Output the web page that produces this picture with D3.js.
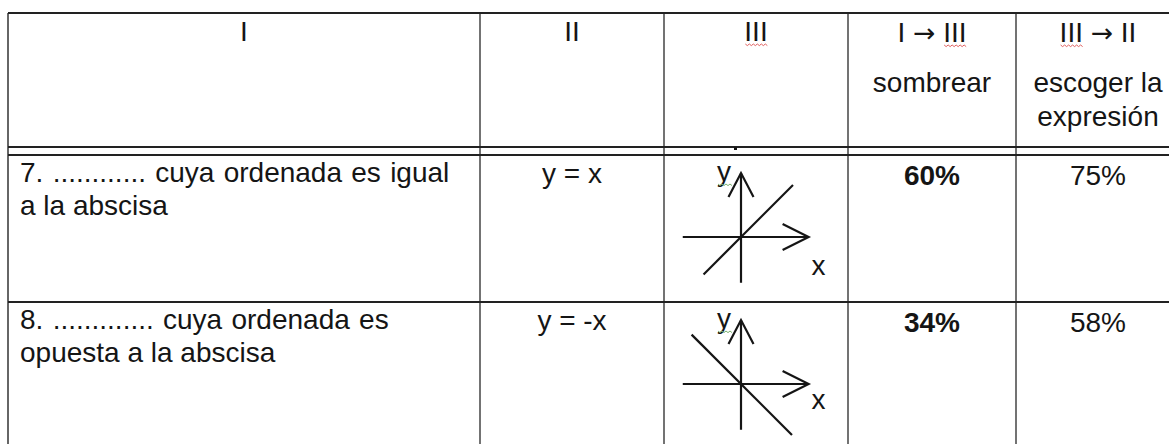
<!DOCTYPE html>
<html>
<head>
<meta charset="utf-8">
<script src="https://cdn.jsdelivr.net/npm/d3@7"></script>
<style>
  body { margin: 0; background: #fff; }
  svg { display: block; font-family: "Liberation Sans", Arial, sans-serif; }
</style>
</head>
<body>
<svg id="table"></svg>
<script>
// Table content
const headers = [["I"], ["II"], ["III"], ["I \u2192 III", "sombrear"], ["III \u2192 II", "escoger la", "expresión"]];
const descriptions = [
    ["7. ............ cuya ordenada es igual", "a la abscisa"],
    ["8. ............. cuya ordenada es", "opuesta a la abscisa"]
];
const expressions = ["y = x", "y = -x"];
const slopes = [1, -1];
const diagStart = [-0.72, -0.95];
const pctSombrear = [60, 34];
const pctEscoger = [75, 58];

// Layout
const width = 1169;
const height = 444;
const colEdges = [8, 480, 664, 848, 1016, 1180];
const topLine = 13;
const headLines = [147, 155];
const rowTops = [155, 302];
const fontSize = 28;
const ink = "#151515";
const arrowFont = "DejaVu Sans";

const svg = d3.select("#table")
    .attr("width", width)
    .attr("height", height);

const colCenter = i => (colEdges[i] + colEdges[i + 1]) / 2;

// text width measuring helper (uses the same arrow font as the header)
const measurer = svg.append("text")
    .attr("font-size", fontSize)
    .attr("x", 10).attr("y", 10)
    .attr("visibility", "hidden")
    .attr("xml:space", "preserve");
function textWidth(s) {
    measurer.selectAll("*").remove();
    measurer.text(null);
    fillText(measurer, s);
    try { return measurer.node().getComputedTextLength(); }
    catch (e) { return s.length * fontSize * 0.5; }
}
// splits the arrow into its own tspan
function fillText(sel, s) {
    s.split(/(\u2192)/).forEach(part => {
        if (!part) return;
        const ts = sel.append("tspan").text(part);
        if (part === "\u2192") ts.attr("font-family", arrowFont).attr("font-size", fontSize * 0.95);
    });
}

// Grid lines
svg.selectAll(".vline")
    .data(colEdges)
    .enter().append("line")
    .attr("class", "vline")
    .attr("x1", d => d).attr("x2", d => d)
    .attr("y1", topLine).attr("y2", height + 10)
    .attr("stroke", (d, i) => i === 0 ? "#666" : "#444")
    .attr("stroke-width", (d, i) => i === 0 ? 2 : 1.5);

svg.selectAll(".hline")
    .data([topLine, ...headLines, rowTops[1]])
    .enter().append("line")
    .attr("class", "hline")
    .attr("x1", colEdges[0]).attr("x2", width + 10)
    .attr("y1", d => d).attr("y2", d => d)
    .attr("stroke", "#222")
    .attr("stroke-width", 2.2);

// small speck on the header rule
svg.append("rect")
    .attr("x", 734).attr("y", 147.5).attr("width", 3).attr("height", 2.5)
    .attr("fill", "#111");

// wavy underline helper
function squiggle(x0, x1, y, color) {
    let p = `M${x0},${y}`;
    for (let x = x0, k = 0; x < x1; x += 2, k++) {
        p += ` L${x + 2},${y + (k % 2 === 0 ? 1.6 : 0)}`;
    }
    svg.append("path").attr("d", p)
        .attr("fill", "none").attr("stroke", color).attr("stroke-width", 1);
}

// Header
headers.forEach((lines, i) => {
    const baselines = lines.length === 1 ? [41] : [42, 92, 126];
    lines.forEach((txt, j) => {
        const t = svg.append("text")
            .attr("x", colCenter(i))
            .attr("y", baselines[j])
            .attr("text-anchor", "middle")
            .attr("font-size", fontSize)
            .attr("fill", ink)
            .attr("xml:space", "preserve");
        fillText(t, txt);
        // red spell-check marks under "III"
        const idx = txt.indexOf("III");
        if (idx >= 0) {
            const start = colCenter(i) - textWidth(txt) / 2 + (idx > 0 ? textWidth(txt.slice(0, idx)) : 0);
            squiggle(start + 1, start + textWidth("III") - 1, baselines[j] + 3, "#e06060");
        }
    });
});
measurer.remove();

// Rows
rowTops.forEach((top, r) => {
    // column I: description
    descriptions[r].forEach((line, j) => {
        svg.append("text")
            .attr("x", 20)
            .attr("y", top + 27 + j * 33)
            .attr("font-size", fontSize)
            .attr("word-spacing", j === 0 ? 1.5 : 0)
            .attr("fill", ink)
            .attr("xml:space", "preserve")
            .text(line);
    });

    // column II: expression
    svg.append("text")
        .attr("x", colCenter(1))
        .attr("y", top + 28)
        .attr("text-anchor", "middle")
        .attr("font-size", fontSize)
        .attr("fill", ink)
        .text(expressions[r]);

    // column III: small graph of y = m x
    const ox = colEdges[2] + 77;
    const oy = top + 82;
    const sx = d3.scaleLinear().domain([-1, 1]).range([ox - 52, ox + 52]);
    const sy = d3.scaleLinear().domain([-1, 1]).range([oy + 52, oy - 52]);
    const g = svg.append("g")
        .attr("stroke", ink)
        .attr("stroke-width", 2.2)
        .attr("fill", "none");

    // axes
    g.append("line").attr("x1", sx(-1.12)).attr("x2", sx(1.3)).attr("y1", sy(0)).attr("y2", sy(0));
    g.append("line").attr("x1", sx(0)).attr("x2", sx(0)).attr("y1", sy(-0.88)).attr("y2", sy(1.23));
    // arrow heads
    const hx = sx(1.3), hy = sy(1.23);
    g.append("path").attr("d", `M${hx - 26},${sy(0) - 13} L${hx},${sy(0)} L${hx - 26},${sy(0) + 13}`);
    g.append("path").attr("d", `M${sx(0) - 12.5},${hy + 24} L${sx(0)},${hy} L${sx(0) + 12.5},${hy + 24}`);
    // line y = m x
    const line = d3.line().x(d => sx(d)).y(d => sy(slopes[r] * d));
    g.append("path").attr("d", line([diagStart[r], r === 0 ? 1 : 0.98]));

    // axis labels
    svg.append("text")
        .attr("x", sx(0) - 17).attr("y", sy(0) - 56)
        .attr("text-anchor", "middle")
        .attr("font-size", fontSize)
        .attr("fill", ink)
        .text("y");
    squiggle(sx(0) - 23, sx(0) - 9, sy(0) - 53, "#7ab070");
    svg.append("text")
        .attr("x", sx(1.3) + 10).attr("y", sy(0) + (r === 0 ? 38 : 25))
        .attr("text-anchor", "middle")
        .attr("font-size", fontSize)
        .attr("fill", ink)
        .text("x");

    // percentages
    svg.append("text")
        .attr("x", colCenter(3))
        .attr("y", top + 30)
        .attr("text-anchor", "middle")
        .attr("font-size", fontSize)
        .attr("font-weight", "bold")
        .attr("fill", ink)
        .text(pctSombrear[r] + "%");
    svg.append("text")
        .attr("x", colCenter(4))
        .attr("y", top + 30)
        .attr("text-anchor", "middle")
        .attr("font-size", fontSize)
        .attr("fill", ink)
        .text(pctEscoger[r] + "%");
});
</script>
</body>
</html>
